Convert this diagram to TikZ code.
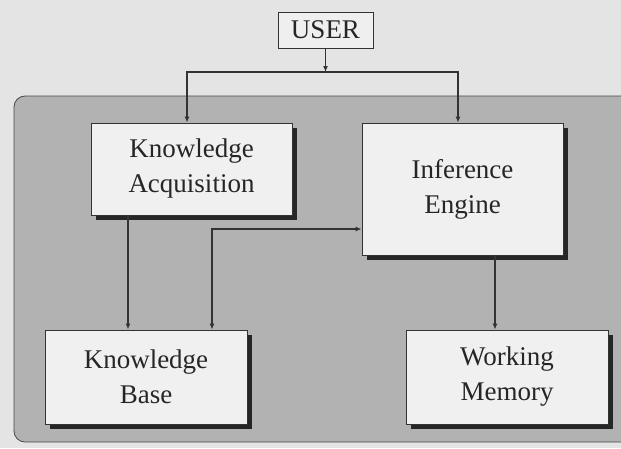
\documentclass[tikz,border=0pt]{standalone}
\usepackage{fontspec}
\setmainfont{Liberation Serif}
\usetikzlibrary{arrows.meta}
\definecolor{pagebg}{HTML}{E4E4E4}
\definecolor{panelbg}{HTML}{B2B2B2}
\definecolor{boxbg}{HTML}{F0F0F0}
\definecolor{ink}{HTML}{333333}
\definecolor{shadowc}{HTML}{262626}
\begin{document}
\begin{tikzpicture}[x=1pt,y=-1pt,
  font=\fontsize{27}{35}\selectfont,
  block/.style={draw=ink, line width=0.8pt, fill=boxbg, align=center,
    inner sep=0pt, text=black!85},
  shade/.style={fill=shadowc, draw=none},
  link/.style={draw=ink, line width=1.3pt,
    -{Latex[length=6pt,width=5pt]}},
  twoway/.style={draw=ink, line width=1.3pt,
    {Latex[length=6pt,width=5pt]}-{Latex[length=6pt,width=5pt]}}]
  % page and frame
  \useasboundingbox (0,0) rectangle (621,448);
  \fill[pagebg] (0,0) rectangle (621,448);
  \draw[fill=panelbg, draw=ink!90, line width=0.8pt, rounded corners=11pt]
    (14,96) rectangle (640,442);

  % drop shadows behind the four blocks
  \fill[shade] (96,128) rectangle (297,220);
  \fill[shade] (367,128) rectangle (568,260);
  \fill[shade] (50,335) rectangle (252,429);
  \fill[shade] (411,335) rectangle (613,429);

  % blocks
  \node[block, minimum width=95pt, minimum height=36pt, fill=pagebg!60!white]
    (user) at (325.5,30) {USER};
  \node[block, minimum width=201pt, minimum height=92pt]
    (ka) at (191.5,169) {Knowledge\\Acquisition};
  \node[block, minimum width=201pt, minimum height=132pt]
    (ie) at (462.5,189) {Inference\\Engine};
  \node[block, minimum width=202pt, minimum height=94pt]
    (kb) at (146,377) {Knowledge\\Base};
  \node[block, minimum width=202pt, minimum height=94pt]
    (wm) at (507,377) {Working\\Memory};

  % connectors
  \coordinate (bus) at (325.5,72);
  \draw[link] (user.south) -- (bus);
  \draw[link] (bus) -| ([xshift=-4.5pt]ka.north);
  \draw[link] (bus) -| ([xshift=-4.5pt]ie.north);
  \draw[link] ([xshift=-63.5pt]ka.south) -- ([xshift=-18pt]kb.north);
  \coordinate (bend) at (212,229);
  \draw[twoway] ([xshift=66pt]kb.north) -- (bend) -- (bend -| ie.west);
  \draw[link] ([xshift=32.5pt]ie.south) -- ([xshift=-12pt]wm.north);
\end{tikzpicture}
\end{document}
